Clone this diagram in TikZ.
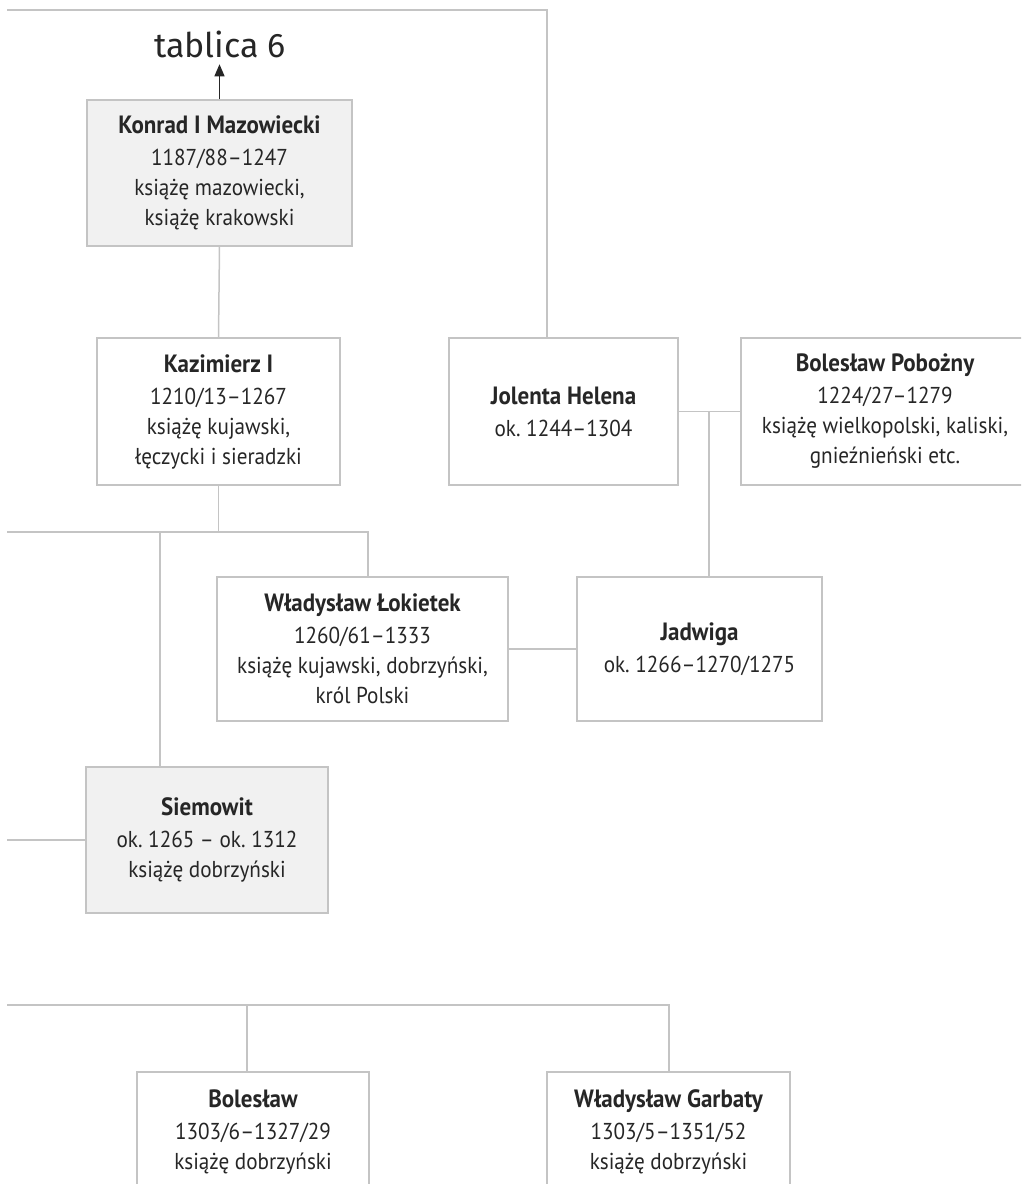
\documentclass[tikz,border=0pt]{standalone}
\usepackage{fontspec}
\setmainfont{PT Sans}[FakeStretch=0.92]
\newfontfamily\tabfont{Fira Sans}
\usetikzlibrary{arrows.meta}
\definecolor{linec}{HTML}{C4C4C4}
\definecolor{fillc}{HTML}{F1F1F1}
\definecolor{textc}{HTML}{262626}
\tikzset{
  box/.style={draw=linec, line width=1.5pt, minimum width=#1, minimum height=146pt,
    align=center, inner sep=0pt, text=textc, font=\fontsize{23}{30}\selectfont},
  gbox/.style={box=#1, fill=fillc},
  conn/.style={draw=linec, line width=1.5pt},
}
\newcommand{\nm}[1]{{\bfseries\fontsize{25}{30}\selectfont #1}}
\begin{document}
\begin{tikzpicture}[x=1pt,y=-1pt]
\useasboundingbox (0,0) rectangle (1021,1184);
\clip (0,0) rectangle (1021,1184);
% nodes
\node[text=textc, font=\tabfont\fontsize{34}{40}\selectfont] (tab) at (220,44) {tablica 6};
\node[gbox=265pt] (konrad) at (219.5,173) {\nm{Konrad I Mazowiecki}\\[2pt]1187/88--1247\\książę mazowiecki,\\książę krakowski};
\node[box=243pt, minimum height=147pt] (kaz) at (218.5,411.5) {\nm{Kazimierz I}\\[2pt]1210/13--1267\\książę kujawski,\\łęczycki i sieradzki};
\node[box=229pt, minimum height=147pt] (jol) at (563.5,411.5) {\nm{Jolenta Helena}\\[2pt]ok.~1244--1304};
\node[box=288pt, minimum height=147pt] (bol) at (885,411.5) {\nm{Bolesław Pobożny}\\[2pt]1224/27--1279\\książę wielkopolski, kaliski,\\gnieźnieński etc.};
\node[box=291pt, minimum height=144pt] (wl) at (362.5,649) {\nm{Władysław Łokietek}\\[2pt]1260/61--1333\\książę kujawski, dobrzyński,\\król Polski};
\node[box=245pt, minimum height=144pt] (jad) at (699.5,649) {\nm{Jadwiga}\\[2pt]ok.~1266--1270/1275};
\node[gbox=242pt] (siem) at (207,840) {\nm{Siemowit}\\[2pt]ok.~1265 -- ok.~1312\\książę dobrzyński};
\node[box=232pt, minimum height=120pt] (bolek) at (253,1132) {\nm{Bolesław}\\[2pt]1303/6--1327/29\\książę dobrzyński};
\node[box=243pt, minimum height=120pt] (garb) at (668.5,1132) {\nm{Władysław Garbaty}\\[2pt]1303/5--1351/52\\książę dobrzyński};
% coordinates
\coordinate (tl) at (7,10);
\coordinate (tr) at (547,10);
\coordinate (kl) at (7,532);
\coordinate (kr) at (368,532);
\coordinate (ks) at (160,532);
\coordinate (jh) at (709,411.5);
\coordinate (sl) at (7,840);
\coordinate (bl) at (7,1005);
\coordinate (bm) at (247,1005);
\coordinate (br) at (669,1005);
% connectors
\draw[conn] (tl) -- (tr) -- (tr |- jol.north);
\draw[draw=textc, line width=1.2pt, -{Triangle[length=12pt,width=10pt]}] (konrad.north) -- ++(0,-35);
\draw[conn] (konrad.south) -- (kaz.north);
\draw[conn] (kaz.south) -- (kaz.south |- kl);
\draw[conn] (kl) -- (kr) -- (kr |- wl.north);
\draw[conn] (ks) -- (ks |- siem.north);
\draw[conn] (jol.east) -- (bol.west);
\draw[conn] (jh) -- (jh |- jad.north);
\draw[conn] (wl.east) -- (jad.west);
\draw[conn] (sl) -- (siem.west);
\draw[conn] (bl) -- (br) -- (br |- garb.north);
\draw[conn] (bm) -- (bm |- bolek.north);
\end{tikzpicture}
\end{document}
